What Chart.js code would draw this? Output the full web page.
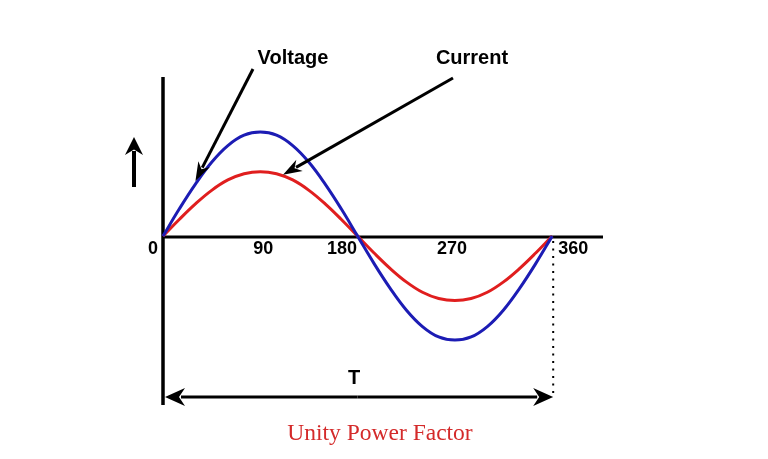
<!DOCTYPE html>
<html>
<head>
<meta charset="utf-8">
<script src="https://cdn.jsdelivr.net/npm/chart.js@4/dist/chart.umd.min.js"></script>
<style>
  html, body { margin: 0; padding: 0; background: #fff; }
  #wrap { width: 768px; height: 459px; position: relative; }
</style>
</head>
<body>
<div id="wrap"><canvas id="c"></canvas></div>
<script>
// ---- data ----
const angles  = [0, 15, 30, 45, 60, 75, 90, 105, 120, 135, 150, 165, 180, 195, 210, 225, 240, 255, 270, 285, 300, 315, 330, 345, 360];
const voltage = [0, 26, 50, 71, 87, 97, 100, 97, 87, 71, 50, 26, 0, -26, -50, -71, -87, -97, -100, -97, -87, -71, -50, -26, 0];
const current = [0, 16, 31, 44, 54, 60, 62, 60, 54, 44, 31, 16, 0, -16, -31, -44, -54, -60, -62, -60, -54, -44, -31, -16, 0];
const tickValues = [0, 90, 180, 270, 360];
const tickLabels = ['0', '90', '180', '270', '360'];
const seriesNames = ['Voltage', 'Current'];
const periodLabel = 'T';
const captionText = 'Unity Power Factor';

function arrow(ctx, x1, y1, x2, y2, len, half) {
  const a = Math.atan2(y2 - y1, x2 - x1);
  const cos = Math.cos(a), sin = Math.sin(a);
  const bx = x2 - len * cos, by = y2 - len * sin;
  ctx.beginPath();
  ctx.moveTo(x1, y1);
  ctx.lineTo(bx + 4 * cos, by + 4 * sin);
  ctx.stroke();
  ctx.beginPath();
  ctx.moveTo(x2, y2);
  ctx.lineTo(bx - half * sin, by + half * cos);
  ctx.lineTo(bx + 0.3 * len * cos, by + 0.3 * len * sin);
  ctx.lineTo(bx + half * sin, by - half * cos);
  ctx.closePath();
  ctx.fill();
}

const deco = {
  id: 'deco',
  beforeDatasetsDraw(chart) {
    const { ctx, chartArea, scales: { x, y } } = chart;
    const x0 = x.getPixelForValue(0), y0 = y.getPixelForValue(0);
    const xEnd = x.getPixelForValue(360);
    ctx.save();
    ctx.strokeStyle = '#000';
    ctx.fillStyle = '#000';
    ctx.lineCap = 'butt';
    // vertical axis
    ctx.lineWidth = 3.5;
    ctx.beginPath(); ctx.moveTo(x0, chartArea.top); ctx.lineTo(x0, chartArea.bottom); ctx.stroke();
    // horizontal axis
    ctx.lineWidth = 3;
    ctx.beginPath(); ctx.moveTo(x0, y0 + 1); ctx.lineTo(chartArea.right, y0 + 1); ctx.stroke();
    // dotted line at 360
    ctx.lineWidth = 2;
    ctx.setLineDash([2, 5.5]);
    ctx.beginPath(); ctx.moveTo(xEnd + 1, y0 + 5); ctx.lineTo(xEnd + 1, 398); ctx.stroke();
    ctx.setLineDash([]);
    // period double arrow
    ctx.lineWidth = 3.2;
    const ya = 397;
    arrow(ctx, (x0 + xEnd) / 2, ya, x0 + 2, ya, 20, 9);
    arrow(ctx, (x0 + xEnd) / 2, ya, xEnd + 1, ya, 20, 9);
    // up arrow (y direction)
    ctx.lineWidth = 4;
    arrow(ctx, 134, 187, 134, 137, 18, 9);
    ctx.restore();
  },
  afterDatasetsDraw(chart) {
    const { ctx, scales: { x, y } } = chart;
    ctx.save();
    ctx.strokeStyle = '#000';
    ctx.fillStyle = '#000';
    ctx.lineWidth = 3;
    arrow(ctx, 253, 69, x.getPixelForValue(30), y.getPixelForValue(53), 19, 6.5);
    arrow(ctx, 453, 78, x.getPixelForValue(111), y.getPixelForValue(59), 19, 6.5);
    ctx.restore();
  },
  afterDraw(chart) {
    const { ctx, scales: { x, y } } = chart;
    const y0 = y.getPixelForValue(0);
    ctx.save();
    ctx.fillStyle = '#000';
    ctx.textAlign = 'center';
    ctx.textBaseline = 'middle';
    ctx.font = 'bold 18px "Liberation Sans", Arial, sans-serif';
    const dx = [-10, 3, -15.5, -3, 21];
    tickValues.forEach((v, i) => {
      ctx.fillText(tickLabels[i], x.getPixelForValue(v) + dx[i], y0 + 13);
    });
    ctx.font = 'bold 20px "Liberation Sans", Arial, sans-serif';
    ctx.fillText(seriesNames[0], 293, 58);
    ctx.fillText(seriesNames[1], 472, 58);
    ctx.fillText(periodLabel, 354, 378);
    ctx.fillStyle = '#d42a2a';
    ctx.font = '23.5px "Liberation Serif", "Times New Roman", serif';
    ctx.fillText(captionText, 380, 434);
    ctx.restore();
  }
};

new Chart(document.getElementById('c'), {
  type: 'line',
  data: {
    datasets: [
      {
        label: seriesNames[0],
        data: angles.map((a, i) => ({ x: a, y: voltage[i] })),
        borderColor: '#1c1cb4',
        borderWidth: 3,
        pointRadius: 0,
        tension: 0.4,
        fill: false
      },
      {
        label: seriesNames[1],
        data: angles.map((a, i) => ({ x: a, y: current[i] })),
        borderColor: '#e01e1e',
        borderWidth: 3,
        pointRadius: 0,
        tension: 0.4,
        fill: false
      }
    ]
  },
  options: {
    responsive: true,
    maintainAspectRatio: false,
    animation: false,
    clip: false,
    layout: { padding: { left: 163, right: 165, top: 77, bottom: 54 } },
    plugins: { legend: { display: false }, tooltip: { enabled: false } },
    scales: {
      x: { type: 'linear', min: 0, max: 407, display: false },
      y: { type: 'linear', min: -162.4, max: 153, display: false }
    }
  },
  plugins: [deco]
});
</script>
</body>
</html>
